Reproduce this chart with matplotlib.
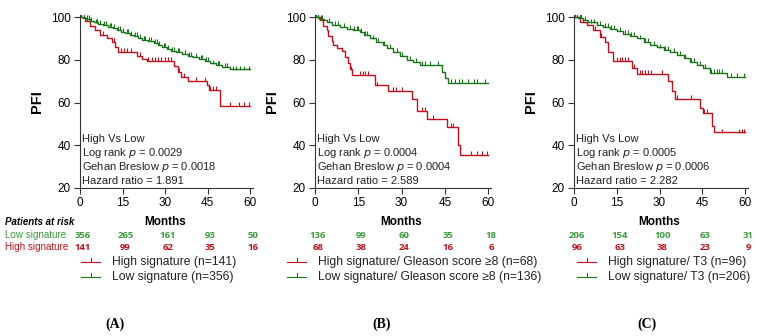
import numpy as np
import matplotlib
matplotlib.use("Agg")
import matplotlib.pyplot as plt
from matplotlib.lines import Line2D
from matplotlib.transforms import blended_transform_factory

# --- colours and fonts ---
RED = "#c0101c"
GREEN = "#1a741a"
RISK_GREEN = "#3c9a3c"
RISK_RED = "#b8141e"
plt.rcParams["font.family"] = ["Liberation Sans", "DejaVu Sans"]

W, H = 757, 336

# ------------------------------------------------------------
# Data (months, PFI %)
# ------------------------------------------------------------
# Panel A
a_high_t = [0, 1.8, 3.5, 5.3, 7.1, 9.4, 11.2, 12.4, 13.5, 20.1, 21.8, 23.5, 33.0, 34.7, 35.5, 38.0, 44.8, 45.5, 49.4, 60]
a_high_s = [100, 98, 96, 94, 91.5, 90, 88.5, 86, 83.8, 82, 80.5, 79.5, 77, 74.5, 72.2, 70, 68, 66, 58.3, 58.3]
a_high_c = [2.5, 8, 12, 14.5, 15.5, 16.5, 18, 21, 24, 25.5, 26.5, 27.5, 28.5, 30, 31, 32, 35, 36.5, 41, 44, 46, 47, 48, 53, 56, 58, 59.5]

a_low_t = [0, 1, 2, 3.5, 5, 6.5, 8, 10, 11.5, 13, 14.5, 16, 17.5, 19, 20.5, 22, 24, 26, 27.5, 29, 30.5, 32, 34, 36, 38, 40, 42, 44, 46, 48, 50, 53, 60]
a_low_s = [100, 99.5, 99, 98.3, 97.5, 96.8, 96.2, 95.5, 94.8, 94, 93.2, 92.5, 91.7, 91, 90.2, 89.5, 88.7, 88, 87, 86, 85, 84, 83.5, 82.8, 82, 81.2, 80.5, 79.5, 78.3, 77.5, 76.8, 75.5, 75.5]
a_low_c = [0.5, 1.5, 2.5, 3, 4, 5.5, 6, 7, 8.5, 9, 10.5, 11, 12, 13.5, 14, 15, 16.5, 17, 18, 19.5, 20, 21, 22.5, 23, 24.5, 25, 26.5, 27, 28, 29.5, 30, 31, 32.5, 33, 34.5, 35, 37, 38.5, 39, 41, 42.5, 43, 44.5, 45, 47, 48.5, 49, 51, 52, 54, 55, 56.5, 58, 59.5]

# Panel B
b_high_t = [0, 1.7, 2.9, 4.0, 4.6, 5.8, 6.4, 7.5, 9.2, 10.4, 11.6, 12.1, 12.7, 20.8, 25.4, 33.7, 35.3, 38.7, 45.8, 49.7, 50.4, 60]
b_high_s = [100, 98.5, 96, 94, 91, 89, 87, 85.4, 84, 81.5, 78.5, 75.5, 73, 68, 65.5, 61.5, 56, 52.5, 48.6, 40, 35.6, 35.6]
b_high_c = [1, 12.5, 15.5, 16.5, 17.5, 18.5, 21.5, 27, 28, 30, 37, 38, 41, 47, 48, 54, 56, 58, 59.5]

b_low_t = [0, 1.5, 3, 4.2, 6, 8.7, 11, 13, 15.6, 17, 19, 21, 23.6, 25, 27, 29.5, 31.9, 34, 36.4, 41, 44, 45.1, 46.2, 60]
b_low_s = [100, 99.3, 98.5, 97.7, 96.5, 95.4, 94.5, 93.8, 93, 91.5, 90, 88.5, 87, 85.5, 83.8, 82, 80, 78.8, 77.8, 77.5, 74.5, 71.3, 69, 69]
b_low_c = [0.5, 1, 2, 2.5, 5, 7, 8, 10, 12, 13.5, 14.5, 15, 16, 17.5, 18, 20, 22, 24, 26, 28.5, 30, 33, 35, 37, 38, 40, 42.5, 47, 48.5, 50, 51, 53, 55, 56, 59]

# Panel C
c_high_t = [0, 2.1, 4.6, 6.8, 9.1, 10.9, 12.0, 13.7, 20.4, 22.1, 33.0, 34.4, 35.4, 44.2, 45.3, 48.4, 49.1, 60]
c_high_s = [100, 97.7, 96.2, 93.8, 90.8, 88.5, 83.8, 79.5, 76, 73.5, 70, 65.4, 61.5, 57.6, 55.3, 49, 46, 46]
c_high_c = [1, 3, 7.5, 9.5, 15, 16, 17, 18, 19, 21, 23, 24, 25, 26, 27, 31, 36, 41, 45.5, 46.5, 52, 58, 59, 59.5]

c_low_t = [0, 1.5, 3, 5, 8, 10, 12.6, 15, 17.2, 19.5, 22.1, 24.5, 26.8, 29, 31.4, 33.5, 36.1, 38.5, 40.7, 43, 45.3, 47.7, 53.6, 60]
c_low_s = [100, 99.4, 98.5, 97.5, 96.2, 95.5, 94.6, 93.5, 92.3, 91.2, 90, 88.5, 87, 85.8, 84.6, 83.5, 82.3, 80.8, 79.2, 77.5, 76.1, 73.8, 71.8, 71.8]
c_low_c = [0.5, 1, 2, 2.5, 4, 6, 7, 9, 11, 12, 13, 14, 16, 18, 19, 20, 21, 23, 25, 26, 28, 30, 32, 33, 35, 37, 39, 41, 42, 44, 46, 48, 49, 50, 51, 52, 55, 57, 59.5]

# Risk tables
risk_times = [0, 15, 30, 45, 60]
a_risk_low = [356, 265, 161, 93, 50]
a_risk_high = [141, 99, 62, 35, 16]
b_risk_low = [136, 99, 60, 35, 18]
b_risk_high = [68, 38, 24, 16, 6]
c_risk_low = [206, 154, 100, 63, 31]
c_risk_high = [96, 63, 38, 23, 9]

# Statistics text
a_stats = ["0.0029", "0.0018", "1.891"]
b_stats = ["0.0004", "0.0004", "2.589"]
c_stats = ["0.0005", "0.0006", "2.282"]

a_legend = ["High signature (n=141)", "Low signature (n=356)"]
b_legend = ["High signature/ Gleason score \u22658 (n=68)", "Low signature/ Gleason score \u22658 (n=136)"]
c_legend = ["High signature/ T3 (n=96)", "Low signature/ T3 (n=206)"]


def fy(ypx):
    # figure fraction from a pixel row counted from the top
    return 1 - ypx / H


def km(ax, t, s, cens, color):
    ax.step(t, s, where="post", color=color, lw=1.0)
    idx = np.searchsorted(t, cens, side="right") - 1
    ys = np.asarray(s)[idx]
    ax.plot(cens, ys + 0.9, ls="none", marker="|", ms=3.4, mew=0.8, color=color)


def panel(left_px, width_px, high, low, risk_low, risk_high, stats, legend, legend_x, label, label_x):
    ax = fig.add_axes([left_px / W, fy(188), width_px / W, 173 / H])
    km(ax, *high, RED)
    km(ax, *low, GREEN)
    ax.set_xlim(0, 61)
    ax.set_ylim(20, 101)
    ax.set_xticks([0, 15, 30, 45, 60])
    ax.set_yticks([20, 40, 60, 80, 100])
    ax.tick_params(labelsize=8.5, length=4.5, width=0.8, color="#333333", pad=2)
    for sp in ["top", "right"]:
        ax.spines[sp].set_visible(False)
    for sp in ["left", "bottom"]:
        ax.spines[sp].set_linewidth(0.8)
        ax.spines[sp].set_color("#333333")
    ax.set_ylabel("PFI", fontsize=10.5, fontweight="bold", labelpad=5)

    # statistics box text
    tr = blended_transform_factory(ax.transData, fig.transFigure)
    lines = ["High Vs Low",
             "Log rank $\\it{p}$ = " + stats[0],
             "Gehan Breslow $\\it{p}$ = " + stats[1],
             "Hazard ratio = " + stats[2]]
    for i, txt in enumerate(lines):
        ax.text(0.6, fy(139 + 14 * i), txt, transform=tr,
                fontsize=8, va="center", ha="left", color="#222222")

    ax.text(30, fy(222), "Months", transform=tr, fontsize=8.5, fontweight="bold", ha="center", va="center")
    for t, nl, nh in zip(risk_times, risk_low, risk_high):
        ax.text(t + 1, fy(235), str(nl), transform=tr, fontsize=6.8, color=RISK_GREEN,
                ha="center", va="center", family="Open Sans", fontweight="bold")
        ax.text(t + 1, fy(247), str(nh), transform=tr, fontsize=6.8, color=RISK_RED,
                ha="center", va="center", family="Open Sans", fontweight="bold")

    # legend drawn by hand
    for i, (txt, col) in enumerate(zip(legend, [RED, GREEN])):
        y = fy(262 + 15 * i)
        fig.add_artist(Line2D([legend_x / W, (legend_x + 19) / W], [y, y], color=col, lw=0.8))
        fig.add_artist(Line2D([(legend_x + 9.5) / W] * 2, [y, y + 4 / H], color=col, lw=0.8))
        fig.text((legend_x + 31) / W, y, txt, fontsize=8.7, va="center", ha="left", color="#222222")

    fig.text(label_x / W, fy(324), label, fontsize=10, fontweight="bold", family="Liberation Serif",
             ha="center", va="center")
    return ax


fig = plt.figure(figsize=(W / 100, H / 100), dpi=100)

panel(80, 173, (a_high_t, a_high_s, a_high_c), (a_low_t, a_low_s, a_low_c),
      a_risk_low, a_risk_high, a_stats, a_legend, 81, "(A)", 115)
panel(315, 176, (b_high_t, b_high_s, b_high_c), (b_low_t, b_low_s, b_low_c),
      b_risk_low, b_risk_high, b_stats, b_legend, 287, "(B)", 382)
panel(574, 174, (c_high_t, c_high_s, c_high_c), (c_low_t, c_low_s, c_low_c),
      c_risk_low, c_risk_high, c_stats, c_legend, 577, "(C)", 647)

# row headers of the risk table
fig.text(5 / W, fy(222), "Patients at risk", fontsize=7, fontweight="bold", style="italic", va="center")
fig.text(5 / W, fy(235), "Low signature", fontsize=7.1, color=RISK_GREEN, va="center")
fig.text(5 / W, fy(247), "High signature", fontsize=7.1, color=RISK_RED, va="center")

fig.savefig("out.png", dpi=100)
